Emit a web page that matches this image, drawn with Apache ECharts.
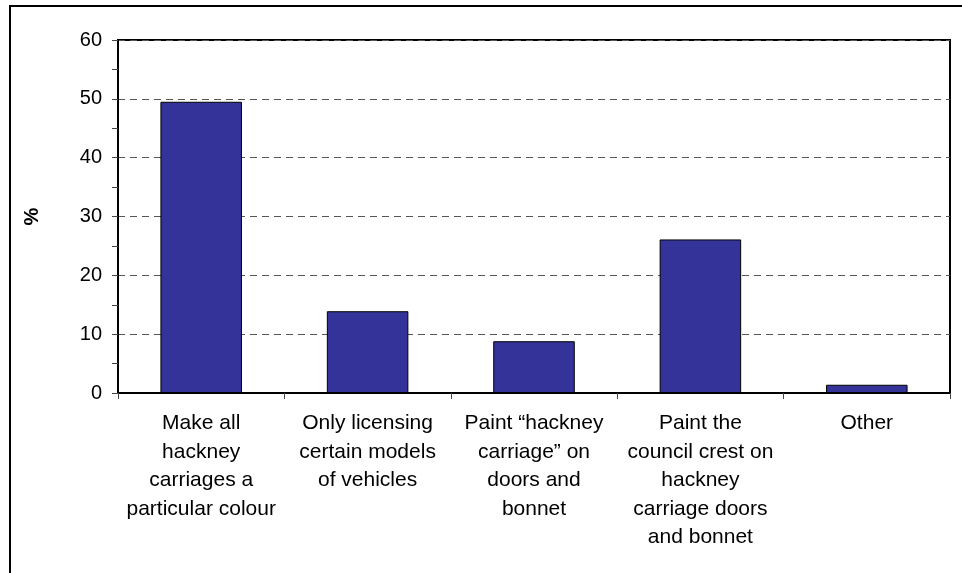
<!DOCTYPE html>
<html>
<head>
<meta charset="utf-8">
<script src="https://cdn.jsdelivr.net/npm/echarts@6/dist/echarts.min.js"></script>
<style>
  html, body { margin: 0; padding: 0; background: #fff; }
  #chart { width: 962px; height: 573px; }
</style>
</head>
<body>
<div id="chart"></div>
<script>
const categories = [
    'Make all\nhackney\ncarriages a\nparticular colour',
    'Only licensing\ncertain models\nof vehicles',
    'Paint \u201chackney\ncarriage\u201d on\ndoors and\nbonnet',
    'Paint the\ncouncil crest on\nhackney\ncarriage doors\nand bonnet',
    'Other'
];
const percentValues = [49.5, 13.9, 8.8, 26.1, 1.4];
const yTicks = [0, 10, 20, 30, 40, 50, 60];

const chart = echarts.init(document.getElementById('chart'), null, { renderer: 'canvas' });

const option = {
    backgroundColor: '#fff',
    animation: false,
    textStyle: { fontFamily: 'Liberation Sans, Arial, sans-serif' },
    graphic: [
        {
            // outer frame, only top and left edges fall inside the picture
            type: 'rect',
            shape: { x: 10, y: 6, width: 1200, height: 1000 },
            style: { fill: 'none', stroke: '#000', lineWidth: 2 },
            silent: true
        }
    ],
    grid: {
        left: 118,
        right: 12,
        top: 40,
        bottom: 180,
        show: true,
        borderColor: '#000',
        borderWidth: 2,
        backgroundColor: 'transparent'
    },
    xAxis: {
        type: 'category',
        data: categories,
        axisLine: { lineStyle: { color: '#000', width: 2 } },
        axisTick: { show: true, length: 6, lineStyle: { color: '#444', width: 1 } },
        axisLabel: {
            color: '#000',
            fontSize: 21,
            lineHeight: 28.5,
            margin: 16,
            interval: 0
        },
        splitLine: { show: false }
    },
    yAxis: {
        type: 'value',
        min: yTicks[0],
        max: yTicks[yTicks.length - 1],
        interval: 10,
        name: '%',
        nameLocation: 'middle',
        nameGap: 76,
        nameTextStyle: { color: '#000', fontSize: 20, fontWeight: 'bold' },
        axisLine: { show: true, lineStyle: { color: '#000', width: 2 } },
        axisTick: { show: true, length: 6, lineStyle: { color: '#444' } },
        minorTick: { show: true, splitNumber: 2, length: 6, lineStyle: { color: '#444' } },
        axisLabel: { color: '#000', fontSize: 20, margin: 16 },
        splitLine: {
            lineStyle: { color: '#555', type: [7, 5], width: 1 }
        }
    },
    series: [
        {
            name: '%',
            type: 'bar',
            data: percentValues,
            barWidth: '49%',
            itemStyle: {
                color: '#333399',
                borderColor: '#000',
                borderWidth: 1
            }
        }
    ]
};

chart.setOption(option);
</script>
</body>
</html>
